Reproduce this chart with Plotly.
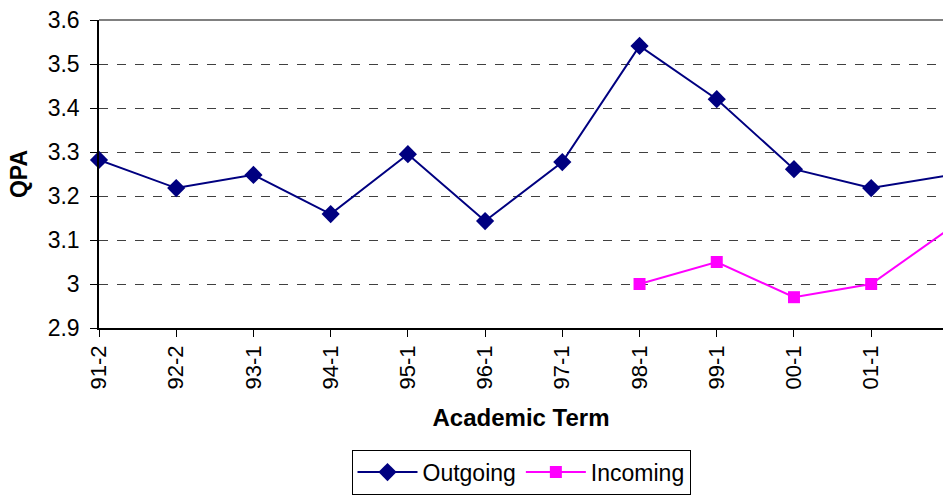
import plotly.graph_objects as go

terms = ["91-2", "92-2", "93-1", "94-1", "95-1", "96-1", "97-1", "98-1", "99-1", "00-1", "01-1", "02-1"]
outgoing = [3.282, 3.218, 3.248, 3.159, 3.295, 3.143, 3.277, 3.541, 3.420, 3.261, 3.218, 3.247]
incoming = [None, None, None, None, None, None, None, 3.000, 3.050, 2.970, 3.000, 3.124]
y_ticks = [2.9, 3.0, 3.1, 3.2, 3.3, 3.4, 3.5, 3.6]
y_ticktext = ["2.9", "3", "3.1", "3.2", "3.3", "3.4", "3.5", "3.6"]

FONT = "Liberation Sans, Arial, sans-serif"

fig = go.Figure()
fig.add_trace(go.Scatter(
    x=terms, y=outgoing, name="Outgoing", mode="lines+markers",
    line=dict(color="#000080", width=2),
    marker=dict(symbol="diamond", size=14, color="#000080"),
    cliponaxis=False,
))
fig.add_trace(go.Scatter(
    x=terms, y=incoming, name="Incoming", mode="lines+markers",
    line=dict(color="#FF00FF", width=2),
    marker=dict(symbol="square", size=12, color="#FF00FF"),
    connectgaps=False,
    cliponaxis=False,
))

fig.update_layout(
    width=943, height=495,
    margin=dict(l=99, r=0, t=20, b=167),
    paper_bgcolor="white", plot_bgcolor="white",
    font=dict(family=FONT, size=22, color="black"),
    showlegend=True,
    legend=dict(
        orientation="h", x=0.5, xanchor="center", y=-0.395, yanchor="top",
        bordercolor="black", borderwidth=1, bgcolor="white",
        font=dict(family=FONT, size=23, color="black"),
        itemwidth=60, tracegroupgap=0,
    ),
    xaxis=dict(
        type="category", categoryorder="array", categoryarray=terms,
        range=[0, 10.93],
        tickangle=-90, ticks="outside", ticklen=7, tickcolor="black",
        showline=True, linecolor="black", linewidth=1.5,
        showgrid=False, zeroline=False,
        tickfont=dict(family=FONT, size=22, color="black"),
        title=dict(text="<b>Academic Term</b>",
                   font=dict(family=FONT, size=24, color="black"), standoff=21),
    ),
    yaxis=dict(
        range=[2.9, 3.6], tickvals=y_ticks, ticktext=y_ticktext,
        ticks="outside", ticklen=7, tickcolor="black",
        ticklabelstandoff=6,
        showline=True, linecolor="black", linewidth=1.5,
        showgrid=True, gridcolor="#404040", griddash="dash", gridwidth=1,
        zeroline=False,
        tickfont=dict(family=FONT, size=23, color="black"),
        title=dict(text="<b>QPA</b>", font=dict(family=FONT, size=23, color="black"), standoff=14),
    ),
    shapes=[dict(type="line", xref="paper", yref="paper", x0=0, x1=1, y0=1, y1=1,
                 line=dict(color="#808080", width=2))],
)

fig.write_html("out.html")
